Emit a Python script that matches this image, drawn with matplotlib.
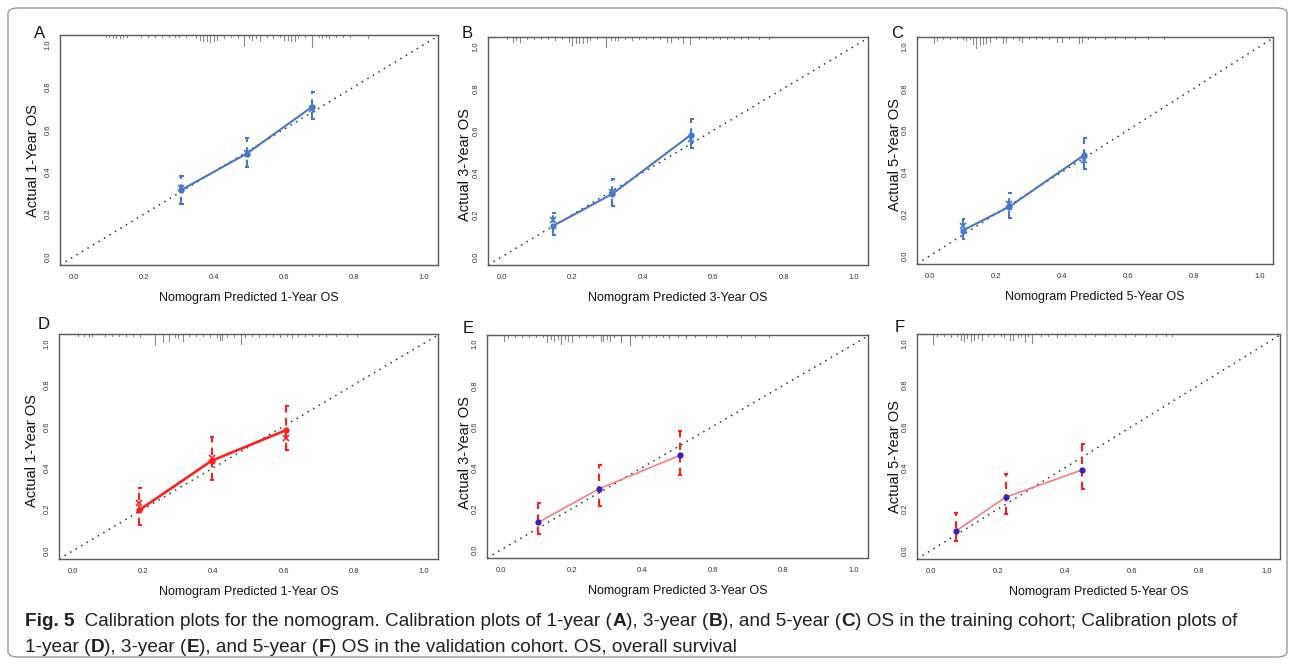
import matplotlib
matplotlib.use('Agg')
import matplotlib.pyplot as plt
from matplotlib import font_manager
from matplotlib.patches import FancyBboxPatch

# ---------------- data ----------------
tick_values = [0.0, 0.2, 0.4, 0.6, 0.8, 1.0]
tick_labels = ['0.0', '0.2', '0.4', '0.6', '0.8', '1.0']

pred_A = [0.305, 0.493, 0.681]
obs_A = [0.313, 0.485, 0.707]
lo_A = [0.250, 0.421, 0.650]
hi_A = [0.382, 0.558, 0.777]
bc_A = [0.325, 0.490, 0.697]

pred_B = [0.146, 0.313, 0.538]
obs_B = [0.147, 0.298, 0.581]
lo_B = [0.102, 0.242, 0.517]
hi_B = [0.206, 0.370, 0.654]
bc_B = [0.174, 0.306, 0.558]

pred_C = [0.099, 0.240, 0.468]
obs_C = [0.120, 0.234, 0.482]
lo_C = [0.078, 0.182, 0.415]
hi_C = [0.174, 0.301, 0.561]
bc_C = [0.142, 0.246, 0.455]

pred_D = [0.188, 0.395, 0.608]
obs_D = [0.195, 0.434, 0.582]
lo_D = [0.124, 0.340, 0.486]
hi_D = [0.300, 0.550, 0.697]
bc_D = [0.231, 0.447, 0.542]

pred_E = [0.105, 0.278, 0.506]
obs_E = [0.133, 0.297, 0.459]
lo_E = [0.078, 0.214, 0.365]
hi_E = [0.230, 0.412, 0.580]

pred_F = [0.075, 0.224, 0.452]
obs_F = [0.094, 0.258, 0.390]
lo_F = [0.048, 0.178, 0.299]
hi_F = [0.183, 0.369, 0.514]

rug_A_x = [0.09, 0.10, 0.11, 0.12, 0.13, 0.14, 0.15, 0.19, 0.21, 0.23, 0.25, 0.27, 0.29, 0.30, 0.32,
           0.35, 0.36, 0.37, 0.38, 0.39, 0.40, 0.41, 0.43, 0.45, 0.47, 0.485, 0.50, 0.51, 0.52, 0.53,
           0.55, 0.57, 0.59, 0.60, 0.61, 0.62, 0.63, 0.64, 0.66, 0.68, 0.70, 0.71, 0.72, 0.73, 0.75,
           0.77, 0.79, 0.84]
rug_A_n = [1, 1, 2, 2, 2, 1, 1, 1, 1, 1, 1, 1, 1, 1, 1,
           2, 3, 4, 4, 5, 4, 3, 2, 1, 2, 9, 2, 3, 2, 4,
           1, 2, 1, 3, 3, 4, 4, 2, 1, 10, 1, 2, 1, 2, 1,
           1, 1, 2]

rug_B_x = [0.015, 0.03, 0.04, 0.05, 0.07, 0.09, 0.11, 0.13, 0.15, 0.17, 0.19, 0.20, 0.21, 0.22, 0.23,
           0.24, 0.25, 0.27, 0.295, 0.31, 0.32, 0.33, 0.35, 0.37, 0.39, 0.41, 0.43, 0.45, 0.47, 0.48,
           0.50, 0.515, 0.535, 0.56, 0.58, 0.60, 0.62, 0.64, 0.66, 0.68, 0.70, 0.73, 0.76]
rug_B_n = [1, 3, 2, 3, 1, 1, 1, 1, 2, 1, 3, 6, 4, 4, 4,
           3, 2, 1, 8, 2, 2, 2, 1, 2, 1, 1, 1, 1, 3, 3,
           1, 4, 5, 1, 1, 1, 1, 1, 1, 1, 1, 1, 1]

rug_C_x = [0.012, 0.02, 0.04, 0.06, 0.08, 0.10, 0.11, 0.12, 0.13, 0.14, 0.15, 0.16, 0.17, 0.18, 0.20,
           0.22, 0.23, 0.25, 0.27, 0.28, 0.30, 0.32, 0.34, 0.36, 0.385, 0.40, 0.42, 0.45, 0.46, 0.48,
           0.50, 0.53, 0.56, 0.59, 0.62, 0.66, 0.71]
rug_C_n = [4, 2, 1, 1, 1, 1, 2, 1, 5, 9, 6, 5, 4, 3, 1,
           4, 3, 1, 2, 3, 1, 1, 1, 1, 3, 3, 1, 4, 3, 1,
           1, 1, 1, 1, 1, 1, 1]

rug_D_x = [0.015, 0.03, 0.045, 0.055, 0.09, 0.11, 0.13, 0.15, 0.17, 0.19, 0.233, 0.257, 0.273, 0.29, 0.30,
           0.313, 0.33, 0.35, 0.37, 0.39, 0.41, 0.419, 0.425, 0.44, 0.46, 0.478, 0.49, 0.51, 0.53, 0.55,
           0.57, 0.59, 0.61, 0.625, 0.64, 0.66, 0.68, 0.70, 0.72, 0.75, 0.78, 0.81]
rug_D_n = [1, 1, 2, 1, 1, 1, 1, 1, 1, 2, 9, 6, 5, 2, 3,
           5, 1, 1, 1, 2, 2, 4, 4, 2, 2, 8, 2, 1, 2, 1,
           1, 2, 1, 3, 1, 1, 1, 1, 1, 1, 1, 1]

rug_E_x = [0.008, 0.02, 0.04, 0.06, 0.08, 0.10, 0.12, 0.131, 0.14, 0.15, 0.16, 0.169, 0.18, 0.19, 0.20,
           0.22, 0.24, 0.26, 0.284, 0.29, 0.30, 0.308, 0.32, 0.341, 0.364, 0.38, 0.40, 0.42, 0.44, 0.46,
           0.477, 0.50, 0.525, 0.55, 0.58, 0.61, 0.64, 0.68, 0.72, 0.76]
rug_E_n = [4, 2, 1, 1, 1, 1, 1, 5, 3, 4, 3, 7, 3, 4, 5,
           1, 1, 1, 4, 4, 3, 4, 1, 5, 8, 1, 2, 1, 1, 1,
           2, 1, 2, 1, 1, 1, 1, 1, 1, 1]

rug_F_x = [0.008, 0.02, 0.04, 0.06, 0.08, 0.092, 0.10, 0.11, 0.12, 0.13, 0.14, 0.152, 0.17, 0.19, 0.21,
           0.22, 0.237, 0.246, 0.26, 0.27, 0.281, 0.29, 0.303, 0.33, 0.35, 0.376, 0.40, 0.43, 0.46, 0.49,
           0.52, 0.55, 0.58, 0.61, 0.64, 0.67, 0.70, 0.72]
rug_F_n = [8, 1, 1, 2, 1, 4, 5, 3, 5, 4, 3, 4, 1, 1, 1,
           2, 4, 4, 2, 1, 5, 1, 7, 1, 1, 2, 1, 1, 1, 1,
           1, 1, 1, 1, 1, 1, 1, 1]

panel_letters = ['A', 'B', 'C', 'D', 'E', 'F']
x_titles = ['Nomogram Predicted 1-Year OS', 'Nomogram Predicted 3-Year OS', 'Nomogram Predicted 5-Year OS',
            'Nomogram Predicted 1-Year OS', 'Nomogram Predicted 3-Year OS', 'Nomogram Predicted 5-Year OS']
y_titles = ['Actual 1-Year OS', 'Actual 3-Year OS', 'Actual 5-Year OS',
            'Actual 1-Year OS', 'Actual 3-Year OS', 'Actual 5-Year OS']

caption_line1 = [('Fig. 5', True), ('  Calibration plots for the nomogram. Calibration plots of 1-year (', False),
                 ('A', True), ('), 3-year (', False), ('B', True), ('), and 5-year (', False), ('C', True),
                 (') OS in the training cohort; Calibration plots of', False)]
caption_line2 = [('1-year (', False), ('D', True), ('), 3-year (', False), ('E', True),
                 ('), and 5-year (', False), ('F', True), (') OS in the validation cohort. OS, overall survival', False)]

# ---------------- figure ----------------
W, H = 1295, 664
fig = plt.figure(figsize=(W / 100, H / 100), dpi=100)
fig.patch.set_facecolor('white')

FAM = ['Liberation Sans', 'DejaVu Sans']


def fx(px):
    return px / W


def fy(py):
    return 1 - py / H


# outer frame
frame = FancyBboxPatch((fx(8), fy(657)), fx(1287) - fx(8), fy(8) - fy(657),
                       boxstyle='round,pad=0,rounding_size=0.008', transform=fig.transFigure,
                       facecolor='none', edgecolor='#9a9a9a', linewidth=1.0)
fig.patches.append(frame)

# panel boxes in pixels (left, top, right, bottom)
boxes = [(60, 35, 438, 265), (488, 37, 868, 265), (917, 37, 1273, 264),
         (59, 334, 438, 559), (487, 335, 868, 558), (917, 334, 1280, 559)]
letter_pos = [(39.5, 33), (467, 33), (897, 33), (43.5, 324), (468, 329), (900, 328)]
ylab_pos = [(33, 161), (465, 165), (895, 155), (32, 451), (465, 453), (895, 457)]

BLUE = '#4677c8'
RED = '#ff1f1f'
PINK = '#ff7272'
DOT = '#3a1fc0'

series = [
    dict(pred=pred_A, obs=obs_A, lo=lo_A, hi=hi_A, bc=bc_A, rx=rug_A_x, rn=rug_A_n, style='blue'),
    dict(pred=pred_B, obs=obs_B, lo=lo_B, hi=hi_B, bc=bc_B, rx=rug_B_x, rn=rug_B_n, style='blue'),
    dict(pred=pred_C, obs=obs_C, lo=lo_C, hi=hi_C, bc=bc_C, rx=rug_C_x, rn=rug_C_n, style='blue'),
    dict(pred=pred_D, obs=obs_D, lo=lo_D, hi=hi_D, bc=bc_D, rx=rug_D_x, rn=rug_D_n, style='red'),
    dict(pred=pred_E, obs=obs_E, lo=lo_E, hi=hi_E, bc=None, rx=rug_E_x, rn=rug_E_n, style='pink'),
    dict(pred=pred_F, obs=obs_F, lo=lo_F, hi=hi_F, bc=None, rx=rug_F_x, rn=rug_F_n, style='pink'),
]

XLIM = (-0.04, 1.04)
YLIM = (-0.04, 1.045)

for i, (box, s) in enumerate(zip(boxes, series)):
    l, t, r, b = box
    ax = fig.add_axes([fx(l), fy(b), fx(r) - fx(l), fy(t) - fy(b)])
    ax.set_xlim(*XLIM)
    ax.set_ylim(*YLIM)
    for sp in ax.spines.values():
        sp.set_color('#5a5a5a')
        sp.set_linewidth(1.0)
    ax.set_xticks(tick_values)
    ax.set_xticklabels(tick_labels)
    ax.set_yticks(tick_values)
    ax.set_yticklabels(tick_labels, rotation=90, va='center')
    ax.tick_params(length=0, labelsize=5.5, labelcolor='#333333')
    ax.tick_params(axis='x', pad=6.5)
    ax.tick_params(axis='y', pad=6)
    for lab in ax.get_xticklabels() + ax.get_yticklabels():
        lab.set_family(FAM)

    # ideal line
    ax.plot([XLIM[0], XLIM[1]], [XLIM[0], XLIM[1]], color='#333333', lw=1.1,
            linestyle=(0, (1, 3.2)), zorder=2)

    # rug at top
    top = YLIM[1]
    for xv, nv in zip(s['rx'], s['rn']):
        h = 0.006 + 0.0052 * nv
        ax.plot([xv, xv], [top, top - h], color='#8a8a8a', lw=0.8, zorder=1)

    if s['style'] == 'blue':
        lc, lw, cic, mc = BLUE, 1.5, BLUE, BLUE
    elif s['style'] == 'red':
        lc, lw, cic, mc = RED, 1.9, RED, RED
    else:
        lc, lw, cic, mc = PINK, 1.1, RED, DOT

    # confidence intervals
    for xv, lo, hi in zip(s['pred'], s['lo'], s['hi']):
        ax.plot([xv, xv], [lo, hi], color=cic, lw=1.5, linestyle=(0, (3.5, 2.5)), zorder=3)
        for yy in (lo, hi):
            ax.plot([xv - 0.004, xv + 0.008], [yy, yy], color=cic, lw=1.5, zorder=3,
                    solid_capstyle='butt')

    ax.plot(s['pred'], s['obs'], color=lc, lw=lw, zorder=4)
    ax.plot(s['pred'], s['obs'], linestyle='none', marker='o', markersize=3.5,
            color=mc, zorder=5)
    if s['bc'] is not None:
        ax.plot(s['pred'], s['bc'], linestyle='none', marker='x', markersize=4,
                mew=1.2, color=mc, zorder=5)

    # titles
    fig.text(fx((l + r) / 2), fy(b + 33), x_titles[i], ha='center', va='center',
             fontsize=9, family=FAM, color='#111111')
    fig.text(fx(ylab_pos[i][0]), fy(ylab_pos[i][1]), y_titles[i], ha='center', va='center',
             rotation=90, fontsize=10.5, family=FAM, color='#111111')
    fig.text(fx(letter_pos[i][0]), fy(letter_pos[i][1]), panel_letters[i], ha='center',
             va='center', fontsize=12, family=FAM, color='#111111')

# ---------------- caption ----------------
cap_fam = 'Liberation Sans'
try:
    font_manager.findfont(font_manager.FontProperties(family='Liberation Sans Narrow'),
                          fallback_to_default=False)
    cap_fam = 'Liberation Sans Narrow'
except Exception:
    pass

renderer = fig.canvas.get_renderer()


def run_width(txt, bold, size):
    t1 = fig.text(0, 0, txt + '|', fontsize=size, fontweight='bold' if bold else 'normal',
                  family=cap_fam)
    t2 = fig.text(0, 0, '|', fontsize=size, fontweight='bold' if bold else 'normal',
                  family=cap_fam)
    w = t1.get_window_extent(renderer).width - t2.get_window_extent(renderer).width
    t1.remove()
    t2.remove()
    return w


base = 12.0
w1 = sum(run_width(t, b, base) for t, b in caption_line1)
cap_size = base * (1245 - 25) / w1


def draw_runs(runs, x0, y0, size):
    x = x0
    for txt, bold in runs:
        fig.text(fx(x), fy(y0), txt, fontsize=size, fontweight='bold' if bold else 'normal',
                 family=cap_fam, ha='left', va='center', color='#231f20')
        x += run_width(txt, bold, size)


draw_runs(caption_line1, 25, 621, cap_size)
draw_runs(caption_line2, 25, 648, cap_size)

fig.savefig('out.png', dpi=100, facecolor='white')
